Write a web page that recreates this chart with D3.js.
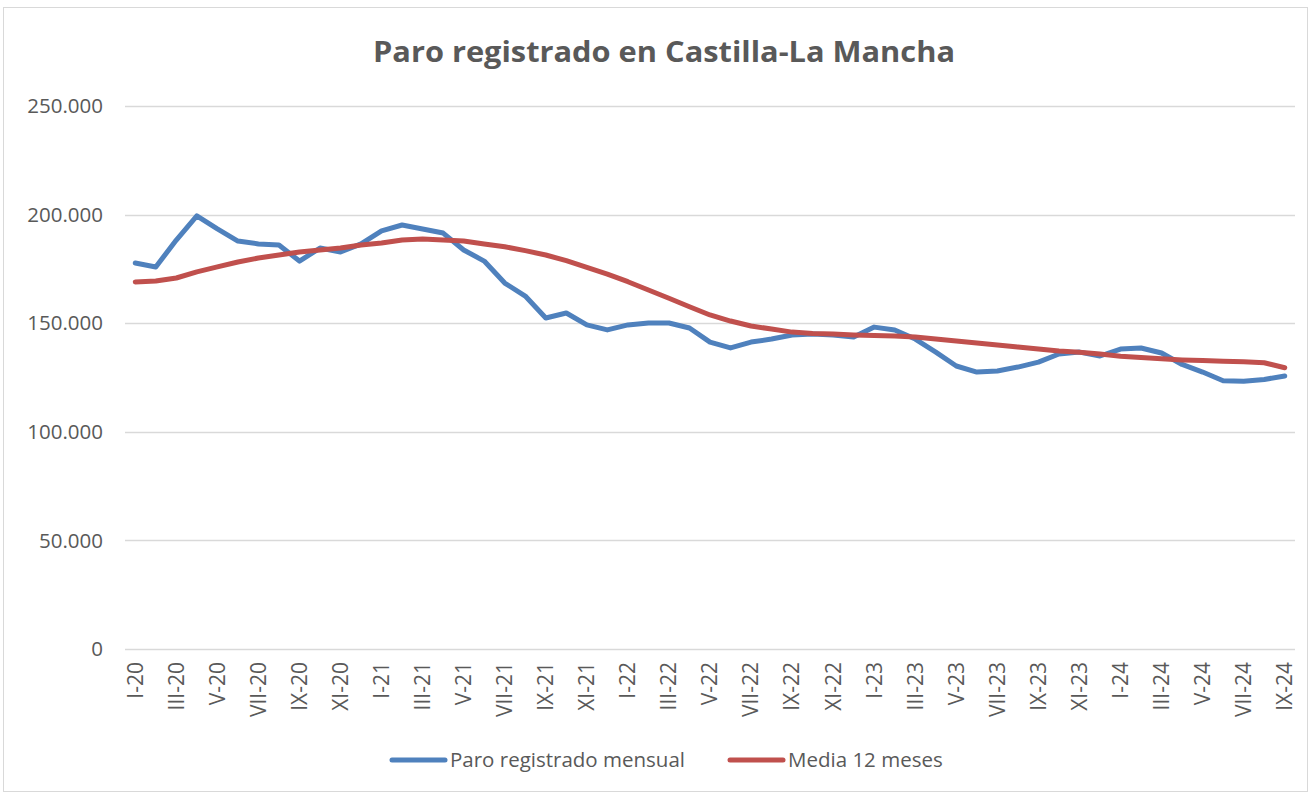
<!DOCTYPE html>
<html>
<head>
<meta charset="utf-8">
<script src="https://cdn.jsdelivr.net/npm/d3@7"></script>
<style>
  body { margin: 0; background: #fff; }
  text { font-family: "Open Sans", sans-serif; fill: #595959; }
</style>
</head>
<body>
<div id="chart"></div>
<script>
// months I-20 .. IX-24
var romans = ["I","II","III","IV","V","VI","VII","VIII","IX","X","XI","XII"];
var years = ["20","21","22","23","24"];
var months = [];
years.forEach(function(y){
    romans.forEach(function(r){ months.push(r + "-" + y); });
});
months = months.slice(0, 57);

// Paro registrado mensual
var paroMensual = [177700,175900,188300,199400,193400,187800,186500,186000,178600,184600,182800,186500,
                   192500,195200,193400,191500,183700,178600,168500,162500,152400,154700,149200,146900,
                   149200,150100,150100,147800,141300,138600,141300,142700,144600,145000,144600,143600,
                   148200,146900,142700,136700,130300,127500,128000,129800,132100,135800,136700,134900,
                   138100,138600,136300,131000,127500,123500,123300,124100,125700];

// Media 12 meses
var media12 = [169000,169400,170800,173600,175900,178200,180000,181400,182800,183700,184600,186000,
               186900,188300,188800,188300,187800,186500,185200,183400,181400,178800,175700,172600,
               169100,165300,161500,157600,153800,151000,148700,147300,145900,145300,145000,144600,
               144300,144100,143600,142700,141800,140900,140000,139000,138100,137200,136600,135800,
               134800,134200,133600,133100,132800,132500,132200,131800,129500];

var yTicks = [0, 50000, 100000, 150000, 200000, 250000];

var seriesNames = ["Paro registrado mensual", "Media 12 meses"];
var seriesColors = ["#4F81BD", "#C0504D"];

function init(){
    var w = 1311, h = 796;
    var svg = d3.select("#chart").append("svg")
                .attr("width", w)
                .attr("height", h);

    // chart border
    svg.append("rect")
        .attr("x", 3.5).attr("y", 7.5)
        .attr("width", w - 7).attr("height", h - 12)
        .attr("fill", "none")
        .attr("stroke", "#D9D9D9");

    var left = 125, right = 1295, top = 106, bottom = 649;

    var x = d3.scaleBand()
              .domain(months)
              .range([left, right]);

    var y = d3.scaleLinear()
              .domain([0, 250000])
              .range([bottom, top]);

    var fmt = function(v){ return v === 0 ? "0" : d3.format(",")(v).replace(/,/g, "."); };

    // gridlines
    svg.append("g").selectAll("line")
        .data(yTicks)
        .enter().append("line")
        .attr("x1", left).attr("x2", right)
        .attr("y1", function(d){ return Math.round(y(d)) + 0.5; })
        .attr("y2", function(d){ return Math.round(y(d)) + 0.5; })
        .attr("stroke", "#D9D9D9")
        .attr("stroke-width", 1.5);

    // y labels
    svg.append("g").selectAll("text")
        .data(yTicks)
        .enter().append("text")
        .attr("x", 103)
        .attr("y", function(d){ return y(d); })
        .attr("dy", "0.35em")
        .attr("text-anchor", "end")
        .style("font-size", "20.5px")
        .text(fmt);

    // x labels, every second month
    svg.append("g").selectAll("text")
        .data(months.filter(function(d, i){ return i % 2 === 0; }))
        .enter().append("text")
        .attr("transform", function(d){
            return "translate(" + (x(d) + x.bandwidth() / 2) + ",662) rotate(-90)";
        })
        .attr("dy", "0.35em")
        .attr("text-anchor", "end")
        .style("font-size", "21px")
        .text(function(d){ return d; });

    // lines
    var line = d3.line()
                 .x(function(d, i){ return x(months[i]) + x.bandwidth() / 2; })
                 .y(function(d){ return y(d); });

    [paroMensual, media12].forEach(function(s, k){
        svg.append("path")
            .datum(s)
            .attr("d", line)
            .attr("fill", "none")
            .attr("stroke", seriesColors[k])
            .attr("stroke-width", 5)
            .attr("stroke-linejoin", "round")
            .attr("stroke-linecap", "round");
    });

    // title
    svg.append("text")
        .attr("x", 664)
        .attr("y", 62)
        .attr("text-anchor", "middle")
        .style("font-size", "29px")
        .style("font-weight", "bold")
        .attr("textLength", 582)
        .attr("lengthAdjust", "spacingAndGlyphs")
        .text("Paro registrado en Castilla-La Mancha");

    // legend
    var legX = [389, 727];
    var leg = svg.append("g").selectAll("g")
        .data(seriesNames)
        .enter().append("g")
        .attr("transform", function(d, i){ return "translate(" + legX[i] + ",760)"; });
    leg.append("line")
        .attr("x1", 3).attr("x2", 56)
        .attr("stroke", function(d, i){ return seriesColors[i]; })
        .attr("stroke-width", 5)
        .attr("stroke-linecap", "round");
    leg.append("text")
        .attr("x", 61)
        .attr("dy", "0.35em")
        .style("font-size", "20.5px")
        .text(function(d){ return d; });
}
window.onload = init;
</script>
</body>
</html>
